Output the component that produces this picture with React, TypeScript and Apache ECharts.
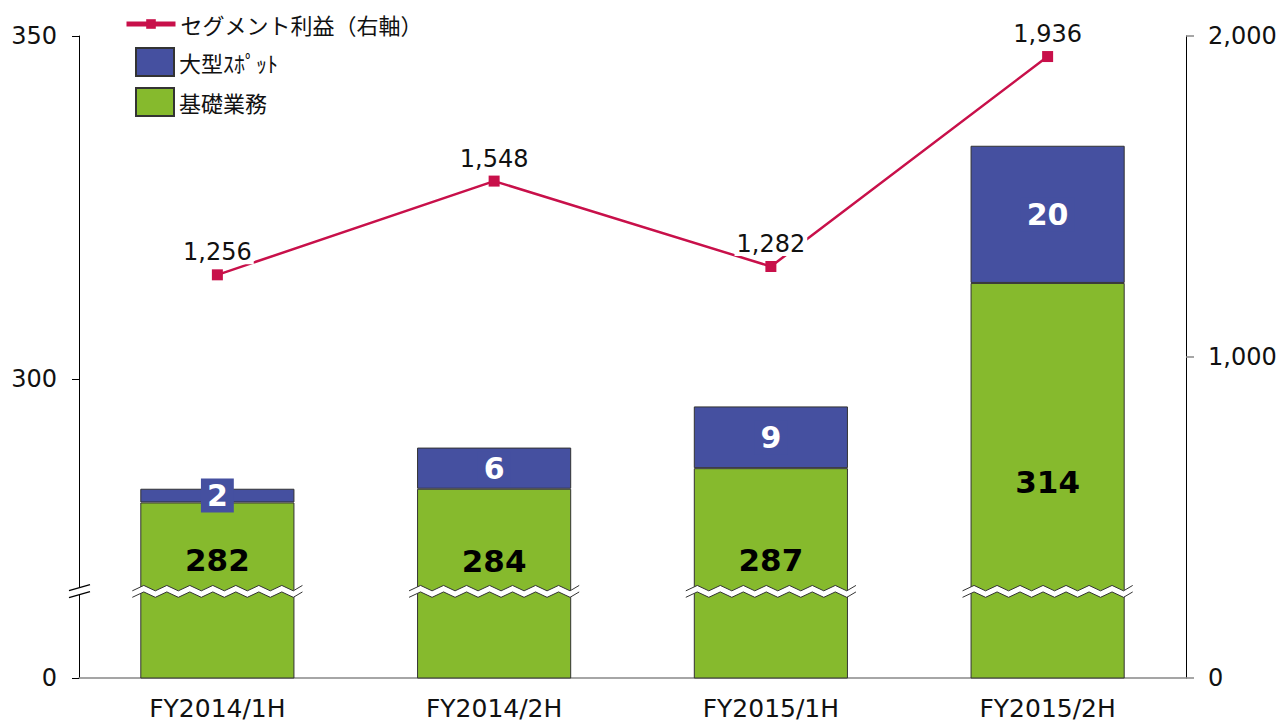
import React, { useEffect, useRef } from 'react';
import * as echarts from 'echarts';

// ---- data ----
const CATEGORIES = ['FY2014/1H', 'FY2014/2H', 'FY2015/1H', 'FY2015/2H'];
const BASE_BUSINESS = [282, 284, 287, 314];
const LARGE_SPOT = [2, 6, 9, 20];
const SEGMENT_PROFIT = [1256, 1548, 1282, 1936];
const SERIES_NAMES = ['セグメント利益（右軸）', '大型ｽﾎﾟｯﾄ', '基礎業務'];

// left axis is broken: its bottom ("0") sits at LEFT_AXIS_MIN on the upper scale
const LEFT_AXIS_MIN = 256.41;
const LEFT_AXIS_MAX = 350;
const BREAK_VALUE = 269;
const LEFT_TICK_VALUES = [LEFT_AXIS_MIN, 300, 350];
const LEFT_TICK_LABELS = ['0', '300', '350'];
const RIGHT_MIN = 0;
const RIGHT_MAX = 2000;
const RIGHT_INTERVAL = 1000;

// ---- styles ----
const GREEN = '#86BA2D';
const BLUE = '#4550A0';
const RED = '#C8104A';
const BAR_RATIO = 0.557;
const NUM_FONT = 'DejaVu Sans, Verdana, sans-serif';
const CJK_FONT = '"Noto Sans CJK JP", sans-serif';
const GREEN_LABEL_DY = [-30, -23, -13, 1];

const fmt = (v: number) => Number(v).toLocaleString('en-US');

function zigzag(x0: number, x1: number, yc: number, amp: number, step: number, startUp: boolean) {
  const pts: number[][] = [];
  let up = startUp;
  for (let x = x0; x < x1; x += step) {
    pts.push([x, yc + (up ? -amp : amp)]);
    up = !up;
  }
  pts.push([x1, yc + (up ? -amp : amp)]);
  return pts;
}

export default function App() {
  const ref = useRef<HTMLDivElement>(null);

  useEffect(() => {
    if (!ref.current) return;
    const chart = echarts.init(ref.current, null, { renderer: 'svg' });

    const renderBreak = (params: any, api: any) => {
      const p = api.coord([api.value(0), api.value(1)]);
      const band = api.size([1, 0])[0];
      const w = band * BAR_RATIO;
      const x0 = p[0] - w / 2 - 8;
      const x1 = p[0] + w / 2 + 8;
      const yc = p[1];
      const top = zigzag(x0, x1, yc - 3.5, 2.7, 11.5, false);
      const bot = zigzag(x0, x1, yc + 3, 2.7, 11.5, false);
      const children: any[] = [
        {
          type: 'polygon',
          shape: { points: top.concat(bot.slice().reverse()) },
          style: { fill: '#fff', stroke: null },
        },
        { type: 'polyline', shape: { points: top }, style: { stroke: '#333', lineWidth: 1, fill: null } },
        { type: 'polyline', shape: { points: bot }, style: { stroke: '#333', lineWidth: 1, fill: null } },
      ];
      if (params.dataIndex === 0) {
        const ax = params.coordSys.x;
        const a1 = [ax - 10, yc - 1];
        const b1 = [ax + 11, yc - 7];
        const a2 = [ax - 10, yc + 6];
        const b2 = [ax + 11, yc];
        children.push(
          { type: 'polygon', shape: { points: [a1, b1, b2, a2] }, style: { fill: '#fff' } },
          { type: 'line', shape: { x1: a1[0], y1: a1[1], x2: b1[0], y2: b1[1] }, style: { stroke: '#000', lineWidth: 1.2 } },
          { type: 'line', shape: { x1: a2[0], y1: a2[1], x2: b2[0], y2: b2[1] }, style: { stroke: '#000', lineWidth: 1.2 } },
        );
      }
      return { type: 'group', children };
    };

    const option: any = {
      animation: false,
      backgroundColor: '#fff',
      grid: { left: 79, right: 96, top: 36, bottom: 44, containLabel: false },
      legend: [
        {
          data: [SERIES_NAMES[0]],
          left: 119,
          top: 8,
          itemWidth: 49,
          itemHeight: 12,
          lineStyle: { width: 5 },
          textStyle: { fontSize: 22, fontFamily: CJK_FONT, color: '#111' },
        },
        {
          data: [SERIES_NAMES[1], SERIES_NAMES[2]],
          orient: 'vertical',
          left: 130,
          top: 42,
          icon: 'rect',
          itemWidth: 38,
          itemHeight: 28,
          itemGap: 10,
          textStyle: { fontSize: 22, fontFamily: CJK_FONT, color: '#111' },
        },
      ],
      xAxis: {
        type: 'category',
        data: CATEGORIES,
        axisLine: { lineStyle: { color: '#888', width: 1.5 } },
        axisTick: { show: false },
        axisLabel: { fontSize: 25, lineHeight: 25, fontFamily: NUM_FONT, color: '#111', margin: 18 },
      },
      yAxis: [
        {
          type: 'value',
          min: LEFT_AXIS_MIN,
          max: LEFT_AXIS_MAX,
          axisLine: { show: true, lineStyle: { color: '#000', width: 1 } },
          axisTick: { show: true, length: 7, customValues: LEFT_TICK_VALUES, lineStyle: { color: '#000' } },
          axisLabel: {
            customValues: LEFT_TICK_VALUES,
            fontSize: 24,
            fontFamily: NUM_FONT,
            color: '#111',
            margin: 22,
            formatter: (v: number) => {
              let best = 0;
              LEFT_TICK_VALUES.forEach((t, i) => {
                if (Math.abs(t - v) < Math.abs(LEFT_TICK_VALUES[best] - v)) best = i;
              });
              return LEFT_TICK_LABELS[best];
            },
          },
          splitLine: { show: false },
        },
        {
          type: 'value',
          min: RIGHT_MIN,
          max: RIGHT_MAX,
          interval: RIGHT_INTERVAL,
          position: 'right',
          axisLine: { show: true, lineStyle: { color: '#000', width: 1 } },
          axisTick: { show: true, length: 8, lineStyle: { color: '#888', width: 1.5 } },
          axisLabel: { fontSize: 24, fontFamily: NUM_FONT, color: '#111', margin: 22, formatter: (v: number) => fmt(v) },
          splitLine: { show: false },
        },
      ],
      series: [
        {
          name: SERIES_NAMES[2],
          type: 'bar',
          stack: 'total',
          barWidth: BAR_RATIO * 100 + '%',
          clip: true,
          itemStyle: { color: GREEN, borderColor: '#333', borderWidth: 1 },
          data: BASE_BUSINESS.map((v, i) => ({ value: v, label: { offset: [0, GREEN_LABEL_DY[i]] } })),
          label: {
            show: true,
            position: 'inside',
            fontSize: 31,
            fontWeight: 'bold',
            fontFamily: NUM_FONT,
            color: '#000',
          },
          z: 2,
        },
        {
          name: SERIES_NAMES[1],
          type: 'bar',
          stack: 'total',
          barWidth: BAR_RATIO * 100 + '%',
          clip: true,
          itemStyle: { color: BLUE, borderColor: '#333', borderWidth: 1 },
          data: LARGE_SPOT,
          label: {
            show: true,
            position: 'inside',
            fontSize: 30,
            fontWeight: 'bold',
            fontFamily: NUM_FONT,
            color: '#fff',
            backgroundColor: BLUE,
            padding: [2, 6],
          },
          z: 2,
        },
        {
          name: 'break',
          type: 'custom',
          renderItem: renderBreak,
          data: CATEGORIES.map((_, i) => [i, BREAK_VALUE]),
          clip: false,
          silent: true,
          z: 3,
          tooltip: { show: false },
        },
        {
          name: SERIES_NAMES[0],
          type: 'line',
          yAxisIndex: 1,
          data: SEGMENT_PROFIT,
          symbol: 'rect',
          symbolSize: 11,
          itemStyle: { color: RED },
          lineStyle: { color: RED, width: 2.5 },
          label: {
            show: true,
            position: 'top',
            distance: 5,
            fontSize: 24,
            fontFamily: NUM_FONT,
            color: '#111',
            backgroundColor: '#fff',
            padding: [0, 2],
            formatter: (p: any) => fmt(p.value),
          },
          z: 5,
        },
      ],
    };

    chart.setOption(option);
    return () => chart.dispose();
  }, []);

  return (
    <div
      ref={ref}
      style={{ position: 'fixed', left: 0, top: 0, width: 1282, height: 722, background: '#fff' }}
    />
  );
}
